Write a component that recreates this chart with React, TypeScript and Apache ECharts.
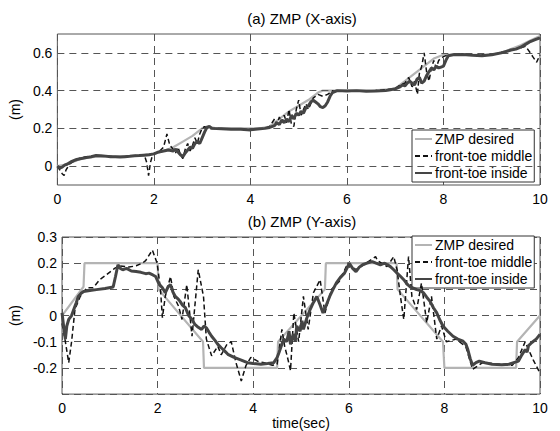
import React, { useEffect, useRef } from "react";
import * as echarts from "echarts";

type P = [number, number];

const seriesNames = ["ZMP desired", "front-toe middle", "front-toe inside"];
const xTicks = [0, 2, 4, 6, 8, 10];
const topGridValues = [0, 0.2, 0.4, 0.6];

// (a) ZMP X-axis
const xDesired: P[] = [
  [0, 0], [0.2, 0.01], [0.4, 0.03], [0.5, 0.04], [0.8, 0.05], [1.2, 0.05], [1.6, 0.055], [2.0, 0.065],
  [2.2, 0.08], [2.4, 0.1], [2.6, 0.13], [2.8, 0.16], [3.0, 0.2], [3.1, 0.21], [3.3, 0.2], [3.8, 0.2],
  [4.2, 0.2], [4.4, 0.21], [4.6, 0.25], [4.8, 0.29], [5.0, 0.32], [5.2, 0.35], [5.4, 0.39], [5.5, 0.4],
  [6.0, 0.4], [6.5, 0.4], [7.0, 0.41], [7.2, 0.45], [7.4, 0.49], [7.6, 0.53], [7.8, 0.57], [8.0, 0.59],
  [8.5, 0.59], [9.0, 0.59], [9.3, 0.61], [9.6, 0.64], [9.8, 0.665], [10, 0.69],
];
const xMiddle: P[] = [
  [0, 0], [0.05, -0.02], [0.1, -0.04], [0.14, -0.05], [0.18, -0.02], [0.25, 0.01], [0.3, 0.02], [0.4, 0.035],
  [0.5, 0.045], [0.6, 0.05], [0.8, 0.055], [1.0, 0.055], [1.2, 0.05], [1.4, 0.05], [1.6, 0.055], [1.8, 0.06],
  [1.85, 0.02], [1.89, -0.05], [1.93, 0.02], [1.98, 0.065], [2.1, 0.075], [2.2, 0.1], [2.27, 0.17], [2.33, 0.11],
  [2.4, 0.09], [2.45, 0.07], [2.5, 0.1], [2.55, 0.06], [2.6, 0.04], [2.65, 0.09], [2.7, 0.12], [2.75, 0.08],
  [2.8, 0.11], [2.85, 0.15], [2.9, 0.12], [2.95, 0.17], [3.0, 0.2], [3.05, 0.21], [3.1, 0.2], [3.2, 0.2],
  [3.6, 0.197], [4.0, 0.193], [4.3, 0.2], [4.4, 0.21], [4.5, 0.25], [4.55, 0.22], [4.6, 0.26], [4.65, 0.23],
  [4.7, 0.27], [4.75, 0.23], [4.8, 0.3], [4.85, 0.22], [4.9, 0.21], [4.95, 0.3], [5.0, 0.35], [5.05, 0.27],
  [5.1, 0.3], [5.15, 0.33], [5.2, 0.3], [5.3, 0.36], [5.4, 0.38], [5.5, 0.37], [5.6, 0.38], [5.7, 0.4],
  [6.0, 0.4], [6.5, 0.398], [7.0, 0.41], [7.1, 0.43], [7.2, 0.44], [7.28, 0.47], [7.35, 0.42], [7.4, 0.45],
  [7.46, 0.38], [7.5, 0.49], [7.55, 0.53], [7.6, 0.6], [7.65, 0.5], [7.7, 0.45], [7.75, 0.52], [7.8, 0.56],
  [7.85, 0.52], [7.9, 0.56], [8.0, 0.58], [8.1, 0.59], [8.5, 0.59], [9.0, 0.59], [9.5, 0.62], [9.7, 0.635],
  [9.8, 0.6], [9.85, 0.58], [9.93, 0.55], [10, 0.59],
];
const xInside: P[] = [
  [0, 0], [0.05, -0.01], [0.1, -0.005], [0.15, 0.005], [0.2, 0.01], [0.3, 0.025], [0.4, 0.035], [0.5, 0.04],
  [0.6, 0.045], [0.7, 0.05], [0.8, 0.056], [0.9, 0.055], [1.0, 0.053], [1.1, 0.05], [1.2, 0.05], [1.3, 0.048],
  [1.4, 0.05], [1.5, 0.052], [1.6, 0.055], [1.7, 0.056], [1.8, 0.058], [1.9, 0.06], [2.0, 0.065], [2.1, 0.075],
  [2.2, 0.08], [2.3, 0.085], [2.4, 0.08], [2.45, 0.09], [2.5, 0.075], [2.55, 0.06], [2.6, 0.05], [2.65, 0.07],
  [2.7, 0.085], [2.75, 0.1], [2.8, 0.095], [2.85, 0.12], [2.9, 0.13], [2.95, 0.12], [3.0, 0.15], [3.05, 0.18],
  [3.1, 0.205], [3.15, 0.21], [3.2, 0.2], [3.4, 0.198], [3.6, 0.195], [3.8, 0.195], [4.0, 0.192], [4.1, 0.195],
  [4.2, 0.198], [4.3, 0.2], [4.4, 0.205], [4.5, 0.215], [4.55, 0.23], [4.6, 0.22], [4.65, 0.245], [4.7, 0.23],
  [4.75, 0.25], [4.8, 0.235], [4.85, 0.27], [4.9, 0.25], [4.95, 0.28], [5.0, 0.27], [5.05, 0.29], [5.1, 0.28],
  [5.15, 0.31], [5.2, 0.32], [5.25, 0.34], [5.3, 0.35], [5.35, 0.34], [5.4, 0.33], [5.45, 0.315], [5.5, 0.31],
  [5.55, 0.32], [5.6, 0.34], [5.65, 0.37], [5.7, 0.39], [5.8, 0.4], [6.0, 0.398], [6.2, 0.4], [6.4, 0.397],
  [6.6, 0.398], [6.8, 0.4], [6.9, 0.405], [7.0, 0.41], [7.1, 0.42], [7.15, 0.43], [7.2, 0.425], [7.25, 0.44],
  [7.3, 0.45], [7.35, 0.44], [7.4, 0.43], [7.45, 0.46], [7.5, 0.47], [7.55, 0.44], [7.6, 0.45], [7.65, 0.48],
  [7.7, 0.5], [7.75, 0.52], [7.8, 0.51], [7.85, 0.53], [7.9, 0.52], [7.95, 0.525], [8.0, 0.53], [8.05, 0.56],
  [8.1, 0.585], [8.2, 0.59], [8.4, 0.592], [8.6, 0.588], [8.8, 0.585], [9.0, 0.59], [9.2, 0.6], [9.4, 0.615],
  [9.5, 0.62], [9.6, 0.63], [9.7, 0.645], [9.8, 0.66], [9.9, 0.67], [10, 0.68],
];

// (b) ZMP Y-axis
const yDesired: P[] = [
  [0, 0.0], [0.45, 0.11], [0.47, 0.2], [2.0, 0.2], [2.02, 0.1], [2.95, -0.1], [2.97, -0.2], [4.5, -0.2],
  [4.52, -0.1], [5.5, 0.1], [5.52, 0.2], [7.0, 0.2], [7.02, 0.1], [7.97, -0.1], [8.0, -0.2], [9.5, -0.2],
  [9.52, -0.1], [10, 0.0],
];
const yMiddle: P[] = [
  [0, -0.03], [0.07, -0.1], [0.14, -0.18], [0.2, -0.1], [0.27, 0.023], [0.38, 0.073], [0.52, 0.106], [0.65, 0.106],
  [0.79, 0.137], [0.93, 0.156], [1.1, 0.18], [1.2, 0.19], [1.4, 0.185], [1.55, 0.19], [1.68, 0.2], [1.75, 0.21],
  [1.89, 0.25], [1.99, 0.2], [2.06, 0.1], [2.1, -0.008], [2.16, 0.073], [2.27, 0.149], [2.34, 0.073], [2.44, 0.035],
  [2.51, -0.015], [2.61, 0.118], [2.72, -0.079], [2.85, 0.175], [2.96, 0.073], [3.02, -0.09], [3.13, -0.154], [3.26, -0.117],
  [3.33, -0.15], [3.45, -0.11], [3.54, -0.1], [3.64, -0.18], [3.75, -0.25], [3.85, -0.19], [3.95, -0.16], [4.1, -0.175],
  [4.23, -0.18], [4.4, -0.19], [4.5, -0.186], [4.6, -0.053], [4.66, -0.12], [4.71, -0.154], [4.78, -0.21], [4.85, 0.01],
  [4.95, -0.1], [5.05, 0.073], [5.15, -0.053], [5.26, 0.087], [5.4, 0.137], [5.5, 0.01], [5.64, 0.1], [5.8, 0.13],
  [5.98, 0.2], [6.15, 0.175], [6.36, 0.2], [6.56, 0.225], [6.6, 0.21], [6.8, 0.187], [6.94, 0.225], [7.01, 0.175],
  [7.08, 0.073], [7.15, -0.015], [7.25, 0.225], [7.32, 0.073], [7.42, 0.023], [7.52, 0.124], [7.63, -0.028], [7.73, 0.073],
  [7.84, -0.09], [7.94, -0.04], [8.04, -0.1], [8.25, -0.09], [8.45, -0.12], [8.59, -0.205], [8.8, -0.18], [9.15, -0.186],
  [9.42, -0.19], [9.55, -0.16], [9.69, -0.1], [9.76, -0.13], [9.86, -0.17], [10, -0.22],
];
const yInside: P[] = [
  [0, 0.01], [0.04, -0.05], [0.07, -0.09], [0.1, -0.04], [0.14, -0.015], [0.2, 0.0], [0.27, 0.035], [0.3, 0.05],
  [0.34, 0.073], [0.4, 0.085], [0.45, 0.092], [0.55, 0.095], [0.72, 0.099], [0.9, 0.103], [1.07, 0.109], [1.12, 0.15],
  [1.17, 0.194], [1.22, 0.18], [1.27, 0.175], [1.35, 0.18], [1.45, 0.17], [1.55, 0.168], [1.65, 0.165], [1.75, 0.16],
  [1.82, 0.162], [1.9, 0.155], [1.96, 0.149], [2.03, 0.12], [2.1, 0.106], [2.16, 0.087], [2.22, 0.11], [2.27, 0.118],
  [2.32, 0.09], [2.37, 0.073], [2.42, 0.065], [2.47, 0.054], [2.52, 0.04], [2.58, 0.03], [2.65, 0.0], [2.72, -0.015],
  [2.78, -0.034], [2.85, -0.045], [2.92, -0.053], [2.97, -0.04], [3.02, -0.047], [3.08, -0.065], [3.13, -0.079], [3.2, -0.095],
  [3.26, -0.11], [3.33, -0.123], [3.4, -0.135], [3.47, -0.148], [3.6, -0.16], [3.75, -0.17], [3.88, -0.18], [4.0, -0.183],
  [4.16, -0.186], [4.3, -0.183], [4.43, -0.18], [4.5, -0.16], [4.54, -0.141], [4.6, -0.11], [4.64, -0.09], [4.7, -0.1],
  [4.75, -0.06], [4.78, -0.11], [4.84, -0.07], [4.88, -0.1], [4.91, -0.04], [4.98, -0.06], [5.02, -0.02], [5.05, -0.053],
  [5.12, -0.01], [5.19, 0.023], [5.26, 0.05], [5.33, 0.073], [5.4, 0.04], [5.46, 0.01], [5.53, 0.04], [5.6, 0.073],
  [5.67, 0.1], [5.74, 0.125], [5.82, 0.145], [5.91, 0.162], [5.96, 0.18], [6.01, 0.2], [6.08, 0.18], [6.15, 0.168],
  [6.22, 0.185], [6.29, 0.194], [6.38, 0.2], [6.49, 0.206], [6.57, 0.2], [6.66, 0.194], [6.75, 0.2], [6.87, 0.187],
  [6.94, 0.175], [7.01, 0.162], [7.08, 0.15], [7.15, 0.137], [7.22, 0.12], [7.28, 0.11], [7.35, 0.105], [7.42, 0.099],
  [7.5, 0.095], [7.56, 0.087], [7.63, 0.07], [7.7, 0.054], [7.77, 0.03], [7.84, 0.01], [7.9, -0.015], [7.97, -0.04],
  [8.07, -0.06], [8.18, -0.079], [8.28, -0.09], [8.39, -0.098], [8.45, -0.11], [8.49, -0.13], [8.54, -0.165], [8.59, -0.19],
  [8.66, -0.18], [8.73, -0.174], [8.85, -0.18], [9.0, -0.186], [9.2, -0.188], [9.35, -0.186], [9.45, -0.18], [9.55, -0.174],
  [9.62, -0.15], [9.69, -0.13], [9.73, -0.14], [9.76, -0.115], [9.83, -0.103], [9.92, -0.09], [10, -0.072],
];

const FONT = "'Liberation Sans', Arial, sans-serif";
const GRID_LINE = { color: "#555", width: 1, type: [7, 5] as number[] };

const styles = [
  { color: "#b4b4b4", width: 2.2, type: "solid" as any },
  { color: "#111111", width: 1.5, type: [5, 3] as any },
  { color: "#454545", width: 3, type: "solid" as any },
];

function makeSeries(data: P[], idx: number, grid: number) {
  return {
    name: seriesNames[idx],
    type: "line",
    xAxisIndex: grid,
    yAxisIndex: grid,
    data,
    symbol: "none",
    z: 3 + idx,
    lineStyle: styles[idx],
    itemStyle: { color: styles[idx].color },
  };
}

function legendAt(top: number) {
  return {
    data: seriesNames,
    orient: "vertical",
    left: 412,
    top,
    backgroundColor: "#fff",
    borderColor: "#333",
    borderWidth: 1,
    borderRadius: 0,
    padding: [2, 2, 2, 2],
    itemGap: 3,
    itemWidth: 17,
    itemHeight: 14,
    selectedMode: false,
    itemStyle: { color: "rgba(0,0,0,0)", borderColor: "rgba(0,0,0,0)", borderWidth: 0, opacity: 0 },
    textStyle: { fontSize: 14, color: "#000", fontFamily: FONT, padding: [0, 0, 0, -2] },
  };
}

function xAxisFor(grid: number, withName: boolean) {
  return {
    gridIndex: grid,
    type: "value",
    min: xTicks[0],
    max: xTicks[xTicks.length - 1],
    interval: xTicks[1] - xTicks[0],
    axisLine: { show: false },
    axisTick: { show: false },
    splitLine: { show: true, lineStyle: GRID_LINE },
    axisLabel: { fontSize: 14, color: "#000", fontFamily: FONT, margin: 7 },
    name: withName ? "time(sec)" : "",
    nameLocation: "middle",
    nameGap: 18,
    nameTextStyle: { fontSize: 14, color: "#000", fontFamily: FONT },
  };
}

export default function App() {
  const ref = useRef<HTMLDivElement>(null);
  useEffect(() => {
    if (!ref.current) return;
    const chart = echarts.init(ref.current, undefined, { renderer: "svg" });
    const option: any = {
      animation: false,
      backgroundColor: "#fff",
      title: [
        {
          text: "(a) ZMP (X-axis)",
          left: 297,
          top: 6,
          textAlign: "center",
          textStyle: { fontSize: 15, fontWeight: "normal", color: "#000", fontFamily: FONT },
        },
        {
          text: "(b) ZMP (Y-axis)",
          left: 297,
          top: 209,
          textAlign: "center",
          textStyle: { fontSize: 15, fontWeight: "normal", color: "#000", fontFamily: FONT },
        },
      ],
      grid: [
        { left: 55, top: 34, width: 485, height: 151, show: true, borderColor: "#555", borderWidth: 1 },
        { left: 55, top: 237, width: 485, height: 158, show: true, borderColor: "#555", borderWidth: 1 },
      ],
      legend: [legendAt(130), legendAt(236)],
      xAxis: [xAxisFor(0, false), xAxisFor(1, true)],
      yAxis: [
        {
          gridIndex: 0,
          type: "value",
          min: -0.1,
          max: 0.7,
          interval: 0.1,
          axisLine: { show: false },
          axisTick: { show: false },
          splitLine: { show: false },
          axisLabel: {
            fontSize: 14,
            color: "#000",
            fontFamily: FONT,
            margin: 5,
            formatter: (v: number) => {
              const k = Math.round(v * 10);
              if (k < 0 || k > 6 || k % 2 !== 0) return "";
              return k === 0 ? "0" : (k / 10).toFixed(1);
            },
          },
          name: "(m)",
          nameLocation: "middle",
          nameGap: 25,
          nameTextStyle: { fontSize: 14, color: "#000", fontFamily: FONT },
        },
        {
          gridIndex: 1,
          type: "value",
          min: -0.3,
          max: 0.3,
          interval: 0.1,
          axisLine: { show: false },
          axisTick: { show: false },
          splitLine: { show: true, lineStyle: GRID_LINE },
          axisLabel: {
            fontSize: 14,
            color: "#000",
            fontFamily: FONT,
            margin: 5,
            formatter: (v: number) => {
              const k = Math.round(v * 10);
              if (k === -3) return "";
              return k === 0 ? "0" : (k / 10).toFixed(1);
            },
          },
          name: "(m)",
          nameLocation: "middle",
          nameGap: 25,
          nameTextStyle: { fontSize: 14, color: "#000", fontFamily: FONT },
        },
      ],
      series: [
        {
          type: "line",
          xAxisIndex: 0,
          yAxisIndex: 0,
          data: [],
          silent: true,
          z: 1,
          markLine: {
            silent: true,
            symbol: "none",
            label: { show: false },
            lineStyle: GRID_LINE,
            data: topGridValues.map((v) => ({ yAxis: v })),
          },
        },
        makeSeries(xDesired, 0, 0),
        makeSeries(xMiddle, 1, 0),
        makeSeries(xInside, 2, 0),
        makeSeries(yDesired, 0, 1),
        makeSeries(yMiddle, 1, 1),
        makeSeries(yInside, 2, 1),
      ],
    };
    chart.setOption(option);
    return () => chart.dispose();
  }, []);
  return (
    <div
      ref={ref}
      style={{ position: "fixed", left: 0, top: 0, width: 560, height: 431, background: "#fff" }}
    />
  );
}
